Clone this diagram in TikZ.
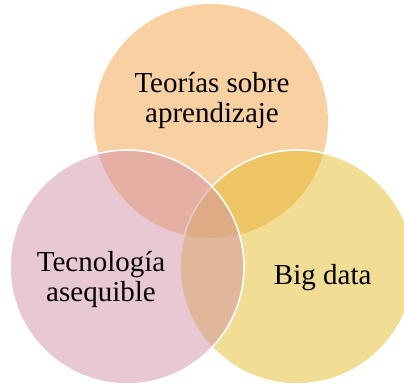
\documentclass[tikz,border=0pt]{standalone}
\usepackage{fontspec}
\setmainfont{Liberation Serif}
\definecolor{vorange}{RGB}{243,161,69}
\definecolor{vpink}{RGB}{209,145,165}
\definecolor{vyellow}{RGB}{229,187,41}
\tikzset{
  venn/.style={circle, inner sep=0pt, minimum size=234pt, fill opacity=0.5},
  vennborder/.style={draw=white, line width=1.6pt, draw opacity=1},
  label/.style={align=center, inner sep=0pt, text=black,
    font=\fontsize{29}{30.5}\selectfont}
}
\begin{document}
\begin{tikzpicture}[x=1pt,y=-1pt]
  \useasboundingbox (0,0) rectangle (404,387);
  \clip (0,0) rectangle (404,387);
  \node[venn, fill=vorange] (teo) at (211,121) {};
  \node[venn, fill=vyellow, vennborder] (big) at (297,267) {};
  \node[venn, fill=vpink, vennborder] (tec) at (127,267) {};
  \node[label] (teot) at (212,100.5) {Teorías sobre\\aprendizaje};
  \node[label] (tect) at (101,279.5) {Tecnología\\asequible};
  \node[label] (bigt) at (322.7,277.5) {Big data};
\end{tikzpicture}
\end{document}
